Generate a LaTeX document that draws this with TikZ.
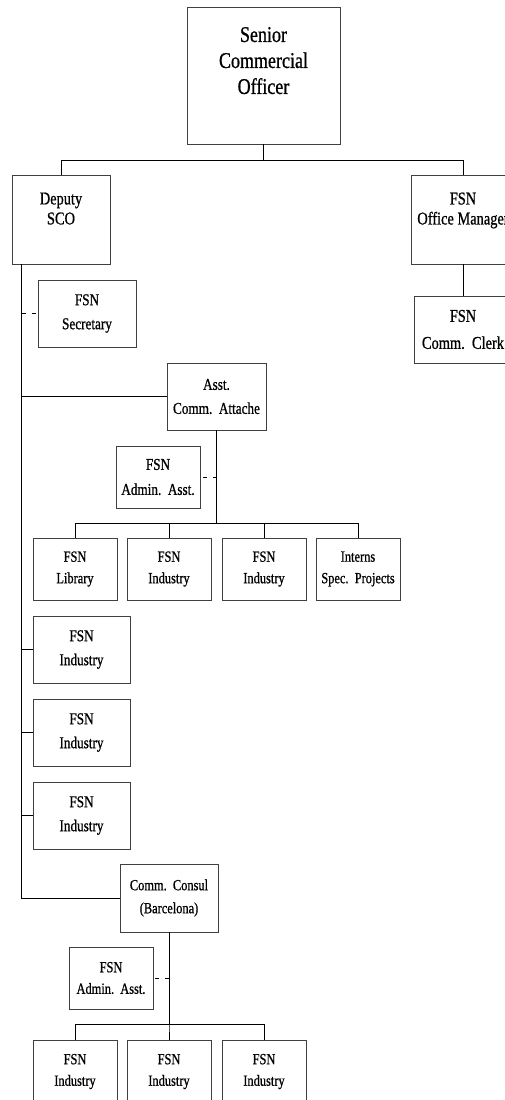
\documentclass[tikz,border=0pt]{standalone}
\usepackage{fontspec}
\newfontfamily\orgfont[FakeStretch=0.8, FakeBold=0.8]{Liberation Serif}

\begin{document}
\begin{tikzpicture}[x=1pt,y=-1pt,
  box/.style={draw=black!75, line width=0.8pt, align=center, inner sep=0pt,
    minimum width=84pt, minimum height=62pt,
    font=\orgfont\fontsize{15.5}{21.5}\selectfont},
  mid/.style={box, minimum width=98pt, minimum height=67pt,
    font=\orgfont\fontsize{16.5}{24}\selectfont},
  big/.style={box, minimum width=98pt, minimum height=89pt, text depth=22pt,
    font=\orgfont\fontsize{18}{20}\selectfont},
  link/.style={line width=0.8pt},
  aide/.style={line width=0.8pt, dash pattern=on 4pt off 6pt}]
\useasboundingbox (0,0) rectangle (505,1100);

% top
\node[box, minimum width=153pt, minimum height=137pt, text depth=30pt,
  font=\orgfont\fontsize{22.5}{26}\selectfont] (sco) at (263.5,75.5)
  {Senior\\Commercial\\Officer};
\node[big] (dep) at (61,219.5) {Deputy\\SCO};
\node[big, minimum width=104pt] (mgr) at (463,219.5) {FSN\\Office Manager};
\node[mid, font=\orgfont\fontsize{18}{27}\selectfont] (clk) at (463,329.5) {FSN\\Comm.\ \ Clerk};

% deputy branch
\node[mid] (sec) at (87,313.5) {FSN\\Secretary};
\node[mid, minimum width=99pt] (att) at (216.5,396.5) {Asst.\\Comm.\ \ Attache};
\node[box, font=\orgfont\fontsize{16.5}{25}\selectfont] (adm) at (158,477) {FSN\\Admin.\ \ Asst.};

\node[box] (lib)  at (75,569)  {FSN\\Library};
\node[box] (ind1) at (169,569) {FSN\\Industry};
\node[box] (ind2) at (264,569) {FSN\\Industry};
\node[box] (int)  at (358,569) {Interns\\Spec.\ \ Projects};

\node[mid, minimum width=97pt] (ind3) at (81.5,649.5) {FSN\\Industry};
\node[mid, minimum width=97pt] (ind4) at (81.5,732.5) {FSN\\Industry};
\node[mid, minimum width=97pt] (ind5) at (81.5,815.5) {FSN\\Industry};

% barcelona
\node[box, minimum width=98pt, minimum height=68pt,
  font=\orgfont\fontsize{15.5}{23}\selectfont] (con) at (169,898) {Comm.\ \ Consul\\(Barcelona)};
\node[box] (adm2) at (111,978) {FSN\\Admin.\ \ Asst.};
\node[box, minimum height=63pt] (bot1) at (75,1071.5)  {FSN\\Industry};
\node[box, minimum height=63pt] (bot2) at (169,1071.5) {FSN\\Industry};
\node[box, minimum height=63pt] (bot3) at (264,1071.5) {FSN\\Industry};

\draw[link] (sco.south) -- ++(0,16) -| (dep.north);
\draw[link] (sco.south) -- ++(0,16) -| (mgr.north);
\draw[link] (mgr.south) -- (clk.north);

\coordinate (spine) at ([xshift=10pt]dep.south west);
\draw[link] (spine) |- (con.west);
\draw[aide] (sec.west -| spine) -- (sec.west);
\draw[link] (att.west) -- (att.west -| spine);
\foreach \n in {ind3,ind4,ind5}
  \draw[link] (\n.west) -- (\n.west -| spine);

\foreach \n in {lib,ind1,ind2,int}
  \draw[link] (att.south) -- ++(0,93) -| (\n.north);
\draw[aide] (adm.east -| att.south) -- (adm.east);

\foreach \n in {bot1,bot2,bot3}
  \draw[link] (con.south) -- ++(0,92) -| (\n.north);
\draw[aide] (adm2.east -| con.south) -- (adm2.east);

\end{tikzpicture}
\end{document}
